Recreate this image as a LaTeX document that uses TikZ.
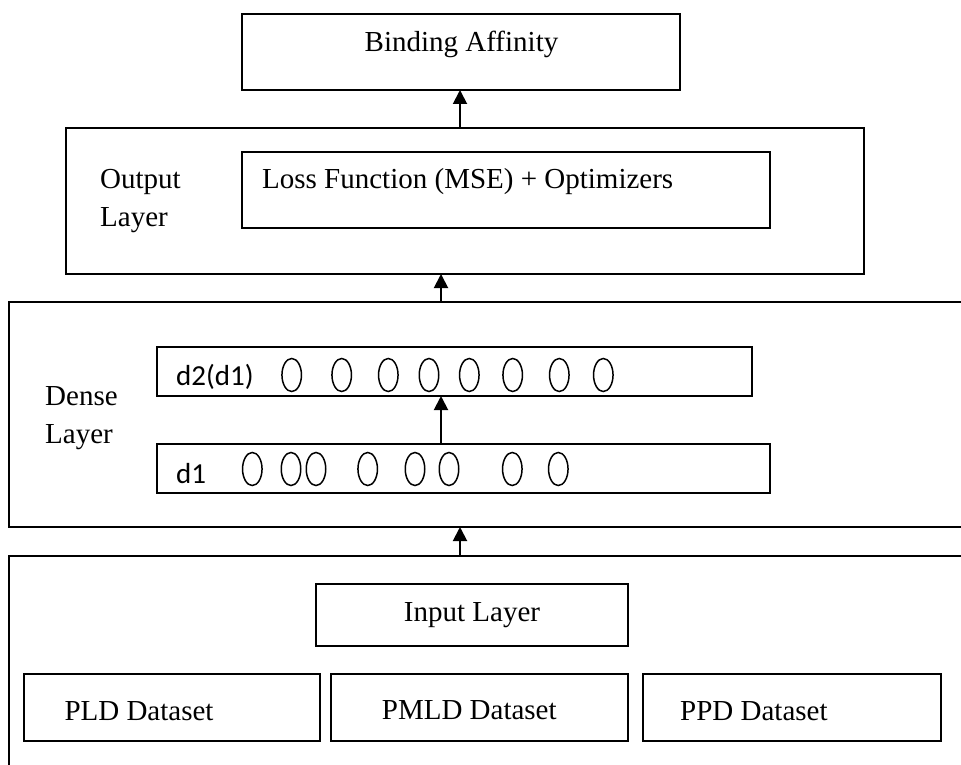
\documentclass[tikz,border=0pt]{standalone}
\usepackage{fontspec}
\setmainfont{Liberation Serif}
\newfontfamily\calfont{Carlito}
\usetikzlibrary{arrows.meta,shapes.geometric}
\begin{document}
\begin{tikzpicture}[x=1pt,y=-1pt,
  box/.style={draw, line width=1.9pt, anchor=north west, inner sep=0pt, outer sep=0pt},
  lbl/.style={font=\fontsize{29}{38}\selectfont, inner sep=0pt, anchor=base west},
  cal/.style={font=\calfont\fontsize{29}{32}\selectfont, inner sep=0pt, anchor=base west},
  neuron/.style={draw, ellipse, line width=1.5pt, minimum width=19.5pt, minimum height=33pt, inner sep=0pt},
  arr/.style={line width=1.9pt, -{Triangle[length=14pt,width=14pt]}}]
\clip (0,0) rectangle (961,765);
\fill[white] (0,0) rectangle (961,765);
% top
\node[box, minimum width=438pt, minimum height=76pt] (bind) at (242,14) {};
\node[lbl, anchor=base] (bindt) at (461.5,51.7) {Binding Affinity};
% output layer
\node[box, minimum width=798pt, minimum height=146pt] (out) at (66,128) {};
\node[lbl, align=left, anchor=west] (outt) at (100,201.5) {Output\\Layer};
\node[box, minimum width=528pt, minimum height=76pt] (loss) at (242,152) {};
\node[lbl] (losst) at (262,188) {Loss Function (MSE) + Optimizers};
% dense layer
\node[box, minimum width=970pt, minimum height=225pt] (dense) at (9,302) {};
\node[lbl, align=left, anchor=west] (denset) at (45,418) {Dense\\Layer};
\node[box, minimum width=595pt, minimum height=49pt] (d2) at (157,347) {};
\node[cal] (d2t) at (176,385) {d2(d1)};
\node[box, minimum width=613pt, minimum height=49pt] (d1) at (157,444) {};
\node[cal] (d1t) at (176,483) {d1};
\foreach \x [count=\i] in {291.7,341.7,388.3,429,469.3,512.7,559.3,603.3}
  \node[neuron] (u\i) at (\x,375) {};
\foreach \x [count=\i] in {252.3,291,316,367.7,415,449,512.3,558.3}
  \node[neuron] (v\i) at (\x,469) {};
% input layer
\node[box, minimum width=966pt, minimum height=240pt] (inp) at (9,556) {};
\node[box, minimum width=312pt, minimum height=62pt] (inl) at (316,584) {};
\node[lbl, anchor=base] (inlt) at (472,621.7) {Input Layer};
\node[box, minimum width=296pt, minimum height=67pt] (pld) at (24,674) {};
\node[lbl] (pldt) at (64.3,720) {PLD Dataset};
\node[box, minimum width=297pt, minimum height=67pt] (pmld) at (331,674) {};
\node[lbl] (pmldt) at (381.7,719) {PMLD Dataset};
\node[box, minimum width=298pt, minimum height=67pt] (ppd) at (643,674) {};
\node[lbl] (ppdt) at (680,720) {PPD Dataset};
% connectors
\coordinate (ax1) at (441,0);
\coordinate (ax2) at (460,0);
\draw[arr] (out.north -| ax2) -- (bind.south -| ax2);
\draw[arr] (dense.north -| ax1) -- (out.south -| ax1);
\draw[arr] (d1.north -| ax1) -- (d2.south -| ax1);
\draw[arr] (inp.north -| ax2) -- (dense.south -| ax2);
\end{tikzpicture}
\end{document}
